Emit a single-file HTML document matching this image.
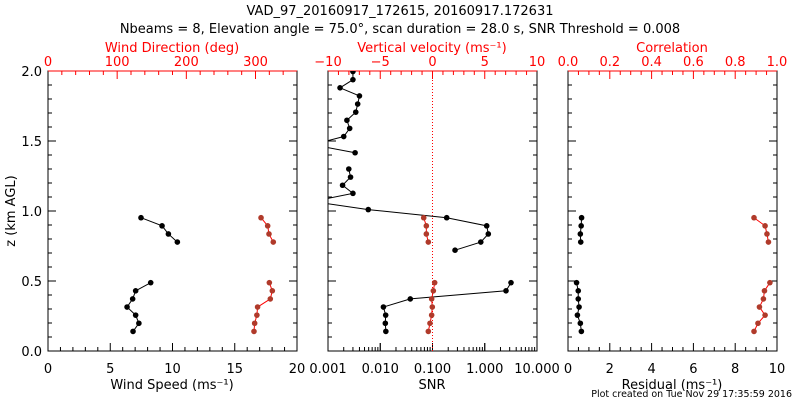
<!DOCTYPE html>
<html><head><meta charset="utf-8"><style>
body{margin:0;background:#fff}
svg{display:block;font-family:"DejaVu Sans","Liberation Sans",sans-serif}
</style></head><body>
<svg id="c" width="800" height="400" viewBox="0 0 800 400">
<text x="400" y="15" text-anchor="middle" font-size="13">VAD_97_20160917_172615, 20160917.172631</text>
<text x="400" y="33" text-anchor="middle" font-size="13">Nbeams = 8, Elevation angle = 75.0°, scan duration = 28.0 s, SNR Threshold = 0.008</text>
<text x="792" y="397" text-anchor="end" font-size="9.5">Plot created on Tue Nov 29 17:35:59 2016</text>
</svg>
<script>
const heights=[0.14,0.198,0.256,0.314,0.372,0.43,0.488,0.546,0.604,0.662,0.72,0.778,0.836,0.894,0.952,1.01,1.068,1.126,1.184,1.242,1.30,1.358,1.416,1.474,1.532,1.59,1.648,1.706,1.764,1.822,1.88,1.938,1.996];
const windSpeed=[6.83,7.3,7.04,6.35,6.8,7.04,8.25,null,null,null,null,10.39,9.67,9.16,7.47];
const windDir=[297.8,298.8,302,303,321.4,324.3,320,null,null,null,null,325.7,319.5,317.6,308];
const snr=[0.0128,0.0125,0.0127,0.0115,0.0376,2.55,3.18,null,null,null,0.27,0.84,1.17,1.09,0.187,0.0059,0.0005,0.0030,0.0019,0.0027,0.0025,null,0.0033,0.0005,0.0020,0.0026,0.0023,0.0034,0.0037,0.0040,0.0017,0.0030,0.0030];
const wVel=[-0.40,-0.24,-0.08,-0.02,-0.08,0.08,0.21,null,null,null,null,-0.40,-0.59,-0.59,-0.84];
const residual=[0.64,0.59,0.45,0.53,0.49,0.49,0.41,null,null,null,null,0.61,0.59,0.63,0.65];
const correlation=[0.890,0.909,0.943,0.916,0.935,0.940,0.966,null,null,null,null,0.959,0.952,0.943,0.890];
const yTicks=["0.0","0.5","1.0","1.5","2.0"];
const speedTicks=["0","5","10","15","20"];
const dirTicks=["0","100","200","300"];
const snrTicks=["0.001","0.010","0.100","1.000","10.000"];
const wTicks=["\u221210","\u22125","0","5","10"];
const resTicks=["0","2","4","6","8","10"];
const corTicks=["0.0","0.2","0.4","0.6","0.8","1.0"];

const svg=document.getElementById('c');const NS='http://www.w3.org/2000/svg';
function el(t,a,p){const e=document.createElementNS(NS,t);for(const k in a)e.setAttribute(k,a[k]);(p||svg).appendChild(e);return e;}
const Y0=351,Y1=71;const yS=z=>Y0-(z/2)*(Y0-Y1);
const RED='#ff0000',MRK='#b03a2a';
function lin(d0,d1,r0,r1){return v=>r0+(v-d0)/(d1-d0)*(r1-r0);}
function panel(name,x0,x1){
  const g=el('g',{});
  const cp=el('clipPath',{id:'cp-'+name},g);el('rect',{x:x0,y:Y1,width:x1-x0,height:Y0-Y1},cp);
  // y ticks
  for(let i=0;i<=20;i++){const y=yS(i*0.1),L=i%5==0?8:4;
    el('line',{x1:x0,x2:x0+L,y1:y,y2:y,stroke:'#000'},g);el('line',{x1:x1,x2:x1-L,y1:y,y2:y,stroke:'#000'},g);}
  return g;}
function xTicks(g,x0,x1,y,dir,n,majEvery,color){for(let i=0;i<=n;i++){const x=x0+(x1-x0)*i/n,L=i%majEvery==0?8:4;
  el('line',{x1:x,x2:x,y1:y,y2:y+dir*L,stroke:color},g);}}
function label(g,x,y,t,color,anchor,size,nm){const e=el('text',{x,y,fill:color,'text-anchor':anchor||'middle','font-size':size||13},g);e.textContent=t;return e;}
function series(g,name,xs,vals,fx,lc,mc,clip){
  const sg=el('g',{'clip-path':clip?'url(#'+clip+')':''},g);
  let pts=[];const segs=[];
  vals.forEach((v,i)=>{if(v==null){if(pts.length)segs.push(pts);pts=[];}else pts.push([fx(v),yS(heights[i])]);});
  if(pts.length)segs.push(pts);
  segs.forEach(s=>{const p=el('polyline',{points:s.map(q=>q.join(',')).join(' '),fill:'none',stroke:lc,'stroke-width':1},sg);
    s.forEach(q=>{const c=el('circle',{cx:q[0],cy:q[1],r:2.8,fill:mc},sg);});});
}
// Left panel
{const x0=48,x1=297,g=panel('wind',x0,x1);
 const fs=lin(0,20,x0,x1),fd=lin(0,360,x0,x1);
 xTicks(g,x0,x1,Y0,-1,20,5,'#000');
 for(let d=0;d<=360;d+=20){const x=fd(d),L=d%100==0?8:4;el('line',{x1:x,x2:x,y1:Y1,y2:Y1+L,stroke:RED},g);}
 el('rect',{x:x0,y:Y1,width:x1-x0,height:Y0-Y1,fill:'none',stroke:'#000'},g);
 el('line',{x1:x0,x2:x1,y1:Y1,y2:Y1,stroke:RED},g);
 yTicks.forEach((t,i)=>label(g,42,yS(i*0.5)+5,t,'#000','end',13,'y-tick-label'));
 speedTicks.forEach((t,i)=>label(g,fs(i*5),373,t,'#000','middle',13,'speed-tick-label'));
 dirTicks.forEach((t,i)=>label(g,fd(i*100),66,t,RED,'middle',13,'direction-tick-label'));
 label(g,172,389,'Wind Speed (ms\u207B\u00B9)','#000','middle',13,'x-axis-title');
 label(g,172,52,'Wind Direction (deg)',RED,'middle',13,'top-axis-title');
 const yt=label(g,0,0,'z (km AGL)','#000','middle',13,'y-axis-title');yt.setAttribute('transform','translate(15,211) rotate(-90)');
 series(g,'wind-speed',heights,windSpeed,fs,'#000','#000','cp-wind');
 series(g,'wind-direction',heights,windDir,fd,RED,MRK,'cp-wind');}
// Middle panel
{const x0=328,x1=537,g=panel('snr',x0,x1);
 const fl=v=>x0+(Math.log10(v)+3)/4*(x1-x0),fw=lin(-10,10,x0,x1);
 for(let d=-3;d<1;d++)for(let k=1;k<=10;k++){const x=fl(k*Math.pow(10,d)),L=k==1||k==10?8:4;el('line',{x1:x,x2:x,y1:Y0,y2:Y0-L,stroke:'#000'},g);}
 xTicks(g,x0,x1,Y1,1,20,5,RED);
 el('rect',{x:x0,y:Y1,width:x1-x0,height:Y0-Y1,fill:'none',stroke:'#000'},g);
 el('line',{x1:x0,x2:x1,y1:Y1,y2:Y1,stroke:RED},g);
 const z=el('line',{x1:fw(0),x2:fw(0),y1:Y1,y2:Y0,stroke:RED,'stroke-dasharray':'1,2'},g);
 snrTicks.forEach((t,i)=>label(g,fl(Math.pow(10,i-3)),373,t,'#000','middle',13,'snr-tick-label'));
 wTicks.forEach((t,i)=>label(g,fw(-10+i*5),66,t,RED,'middle',13,'velocity-tick-label'));
 label(g,432,389,'SNR','#000','middle',13,'snr-axis-title');
 label(g,432,52,'Vertical velocity (ms\u207B\u00B9)',RED,'middle',13,'velocity-axis-title');
 series(g,'snr',heights,snr,fl,'#000','#000','cp-snr');
 series(g,'vertical-velocity',heights,wVel,fw,RED,MRK,'cp-snr');}
// Right panel
{const x0=568,x1=777,g=panel('residual',x0,x1);
 const fr=lin(0,10,x0,x1),fc=lin(0,1,x0,x1);
 xTicks(g,x0,x1,Y0,-1,20,4,'#000');
 xTicks(g,x0,x1,Y1,1,20,4,RED);
 el('rect',{x:x0,y:Y1,width:x1-x0,height:Y0-Y1,fill:'none',stroke:'#000'},g);
 el('line',{x1:x0,x2:x1,y1:Y1,y2:Y1,stroke:RED},g);
 resTicks.forEach((t,i)=>label(g,fr(i*2),373,t,'#000','middle',13,'residual-tick-label'));
 corTicks.forEach((t,i)=>label(g,fc(i*0.2),66,t,RED,'middle',13,'correlation-tick-label'));
 label(g,672,389,'Residual (ms\u207B\u00B9)','#000','middle',13,'residual-axis-title');
 label(g,672,52,'Correlation',RED,'middle',13,'correlation-axis-title');
 series(g,'residual',heights,residual,fr,'#000','#000','cp-residual');
 series(g,'correlation',heights,correlation,fc,RED,MRK,'cp-residual');}
</script>
</body></html>
